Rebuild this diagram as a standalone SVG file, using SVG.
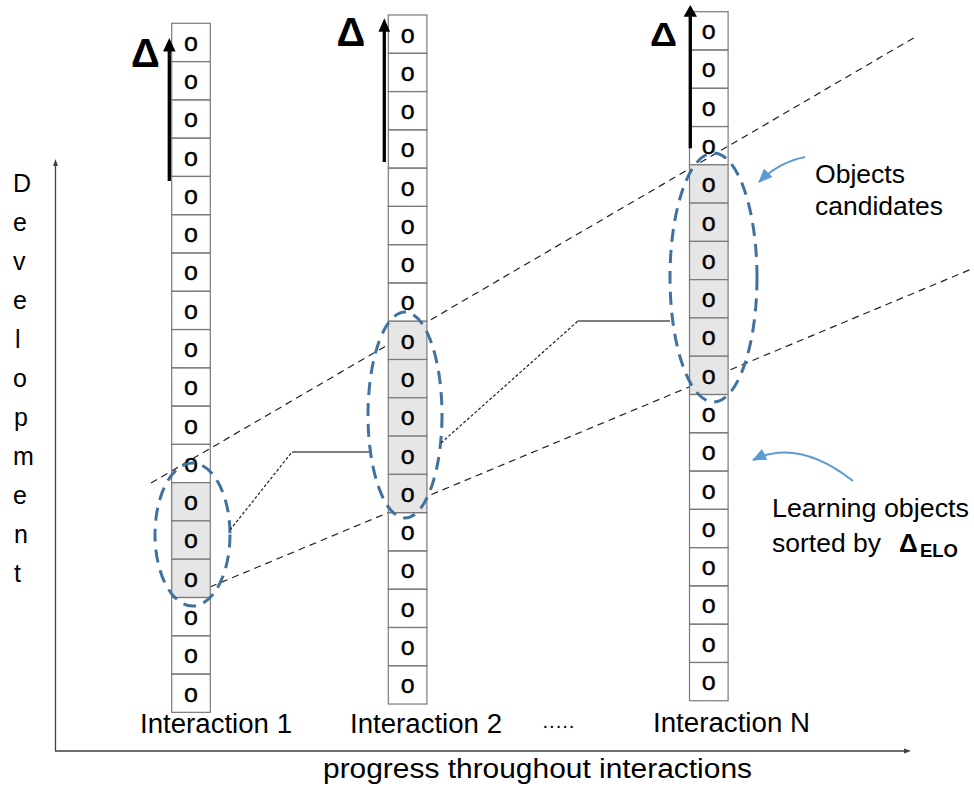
<svg xmlns="http://www.w3.org/2000/svg" xmlns:xlink="http://www.w3.org/1999/xlink" width="974" height="792" viewBox="0 0 974 792">
<style>
.cell{fill:none;stroke:#7a7a7a;stroke-width:1.2}
.g{fill:#e7e6e6}
.o{font-family:"Liberation Sans",Arial,sans-serif;font-size:25px;text-anchor:middle;fill:#000;stroke:#000;stroke-width:0.4}
.lbl{font-family:"Liberation Sans",Arial,sans-serif;font-size:27px;fill:#000}
.rl{font-family:"Liberation Sans",Arial,sans-serif;font-size:25px;fill:#000}
.dev{font-family:"Liberation Sans",Arial,sans-serif;font-size:25px;fill:#000}
.delta{font-family:"Liberation Sans",Arial,sans-serif;font-weight:bold;fill:#000}
.darr{stroke:#000;stroke-width:3.3;fill:none}
.ell{fill:none;stroke:#41729f;stroke-width:3;stroke-dasharray:13 8}
.dash{stroke:#222;stroke-width:1.2;stroke-dasharray:7 5;fill:none}
.dot{stroke:#222;stroke-width:1.2;stroke-dasharray:3 2;fill:none}
.solid{stroke:#000;stroke-width:1.1;fill:none}
.axis{stroke:#404040;stroke-width:1.3;fill:none}
.call{stroke:#5b9bd5;stroke-width:2;fill:none;marker-end:url(#bh)}
</style>
<defs>
<marker id="bh" markerUnits="userSpaceOnUse" markerWidth="14" markerHeight="12" refX="13" refY="6" orient="auto">
<path d="M0,0 L14,6 L0,12 z" fill="#5b9bd5"/>
</marker>
<g id="cw"><rect class="cell" width="38.6" height="38.28"/><text class="o" x="19.3" y="27.5">o</text></g>
<g id="cg"><rect class="cell g" width="38.6" height="38.28"/><text class="o" x="19.3" y="27.5">o</text></g>
</defs>
<rect width="974" height="792" fill="#fff"/>

<g id="connectors">
<line class="dash" x1="151" y1="483" x2="917" y2="36"/>
<line class="dash" x1="210" y1="587" x2="974" y2="268"/>
</g>

<g id="interaction1">
<g transform="translate(171.7,23.3)">
<use xlink:href="#cw" y="0"/><use xlink:href="#cw" y="38.28"/><use xlink:href="#cw" y="76.56"/><use xlink:href="#cw" y="114.84"/><use xlink:href="#cw" y="153.12"/><use xlink:href="#cw" y="191.4"/><use xlink:href="#cw" y="229.68"/><use xlink:href="#cw" y="267.96"/><use xlink:href="#cw" y="306.24"/><use xlink:href="#cw" y="344.52"/><use xlink:href="#cw" y="382.8"/><use xlink:href="#cw" y="421.08"/><use xlink:href="#cg" y="459.36"/><use xlink:href="#cg" y="497.64"/><use xlink:href="#cg" y="535.92"/><use xlink:href="#cw" y="574.2"/><use xlink:href="#cw" y="612.48"/><use xlink:href="#cw" y="650.76"/>
</g>
<line class="darr" x1="169.3" y1="181" x2="169.3" y2="50"/>
<polygon points="169.3,38 163,51.5 175.6,51.5" fill="#000"/>
<text class="delta" x="131" y="66.7" font-size="40">Δ</text>
<text class="lbl" x="140" y="733" textLength="152" lengthAdjust="spacingAndGlyphs">Interaction 1</text>
</g>

<g id="interaction2">
<g transform="translate(388.3,15)">
<use xlink:href="#cw" y="0"/><use xlink:href="#cw" y="38.28"/><use xlink:href="#cw" y="76.56"/><use xlink:href="#cw" y="114.84"/><use xlink:href="#cw" y="153.12"/><use xlink:href="#cw" y="191.4"/><use xlink:href="#cw" y="229.68"/><use xlink:href="#cw" y="267.96"/><use xlink:href="#cg" y="306.24"/><use xlink:href="#cg" y="344.52"/><use xlink:href="#cg" y="382.8"/><use xlink:href="#cg" y="421.08"/><use xlink:href="#cg" y="459.36"/><use xlink:href="#cw" y="497.64"/><use xlink:href="#cw" y="535.92"/><use xlink:href="#cw" y="574.2"/><use xlink:href="#cw" y="612.48"/><use xlink:href="#cw" y="650.76"/>
</g>
<line class="darr" x1="384.3" y1="162" x2="384.3" y2="30"/>
<polygon points="384.3,18.3 378.5,31.7 390.1,31.7" fill="#000"/>
<text class="delta" x="336.5" y="45.7" font-size="40">Δ</text>
<text class="lbl" x="350" y="733" textLength="152" lengthAdjust="spacingAndGlyphs">Interaction 2</text>
</g>

<g id="interactionN">
<g transform="translate(689.5,11.7)">
<use xlink:href="#cw" y="0"/><use xlink:href="#cw" y="38.28"/><use xlink:href="#cw" y="76.56"/><use xlink:href="#cw" y="114.84"/><use xlink:href="#cg" y="153.12"/><use xlink:href="#cg" y="191.4"/><use xlink:href="#cg" y="229.68"/><use xlink:href="#cg" y="267.96"/><use xlink:href="#cg" y="306.24"/><use xlink:href="#cg" y="344.52"/><use xlink:href="#cw" y="382.8"/><use xlink:href="#cw" y="421.08"/><use xlink:href="#cw" y="459.36"/><use xlink:href="#cw" y="497.64"/><use xlink:href="#cw" y="535.92"/><use xlink:href="#cw" y="574.2"/><use xlink:href="#cw" y="612.48"/><use xlink:href="#cw" y="650.76"/>
</g>
<line class="darr" x1="690.3" y1="148.3" x2="690.3" y2="15"/>
<polygon points="690.3,5 683.6,16.7 697,16.7" fill="#000"/>
<text class="delta" x="650" y="45.7" font-size="33" textLength="27" lengthAdjust="spacingAndGlyphs">Δ</text>
<text class="lbl" x="653" y="732" textLength="157" lengthAdjust="spacingAndGlyphs">Interaction N</text>
</g>

<g id="candidate-groups">
<ellipse class="ell" cx="192.5" cy="534.5" rx="37.5" ry="71.5"/>
<ellipse class="ell" cx="405" cy="415" rx="37" ry="103"/>
<ellipse class="ell" cx="713.5" cy="277.5" rx="43.5" ry="124.5"/>
</g>

<g id="links">
<line class="dot" x1="230" y1="530" x2="292" y2="452"/>
<line class="solid" x1="292" y1="452" x2="369" y2="452"/>
<line class="dot" x1="441" y1="443" x2="578" y2="321"/>
<line class="solid" x1="578" y1="321" x2="670" y2="321"/>
<path class="call" d="M805,157 Q779,162 759,182"/>
<path class="call" d="M853,481 Q798,438 753,460"/>
</g>

<g id="axes">
<line class="axis" x1="55.5" y1="751" x2="55.5" y2="164"/>
<polygon points="55.5,159 53,166 58,166" fill="#404040"/>
<line class="axis" x1="55" y1="751" x2="905" y2="751"/>
<polygon points="911,751 904,748.5 904,753.5" fill="#404040"/>
</g>

<g id="axis-labels">
<text class="dev" x="13" y="192">D</text>
<text class="dev" x="13" y="231">e</text>
<text class="dev" x="13" y="270">v</text>
<text class="dev" x="13" y="309">e</text>
<text class="dev" x="15" y="348">l</text>
<text class="dev" x="13" y="387">o</text>
<text class="dev" x="14" y="426">p</text>
<text class="dev" x="13" y="465">m</text>
<text class="dev" x="13" y="504">e</text>
<text class="dev" x="14" y="543">n</text>
<text class="dev" x="14" y="582">t</text>
<text class="lbl" x="323" y="778" textLength="429" lengthAdjust="spacingAndGlyphs">progress throughout interactions</text>
<text class="lbl" x="542" y="732" style="font-size:20px" textLength="33" lengthAdjust="spacing">·····</text>
</g>

<g id="notes">
<text class="rl" x="815" y="183" textLength="90" lengthAdjust="spacingAndGlyphs">Objects</text>
<text class="rl" x="815" y="215" textLength="128" lengthAdjust="spacingAndGlyphs">candidates</text>
<text class="rl" x="772" y="517" textLength="197" lengthAdjust="spacingAndGlyphs">Learning objects</text>
<text class="rl" x="772" y="552" textLength="109" lengthAdjust="spacingAndGlyphs">sorted by</text>
<text class="delta" x="899" y="552" font-size="26">Δ</text>
<text class="delta" x="920" y="557" font-size="19" textLength="38" lengthAdjust="spacingAndGlyphs">ELO</text>
</g>
</svg>
